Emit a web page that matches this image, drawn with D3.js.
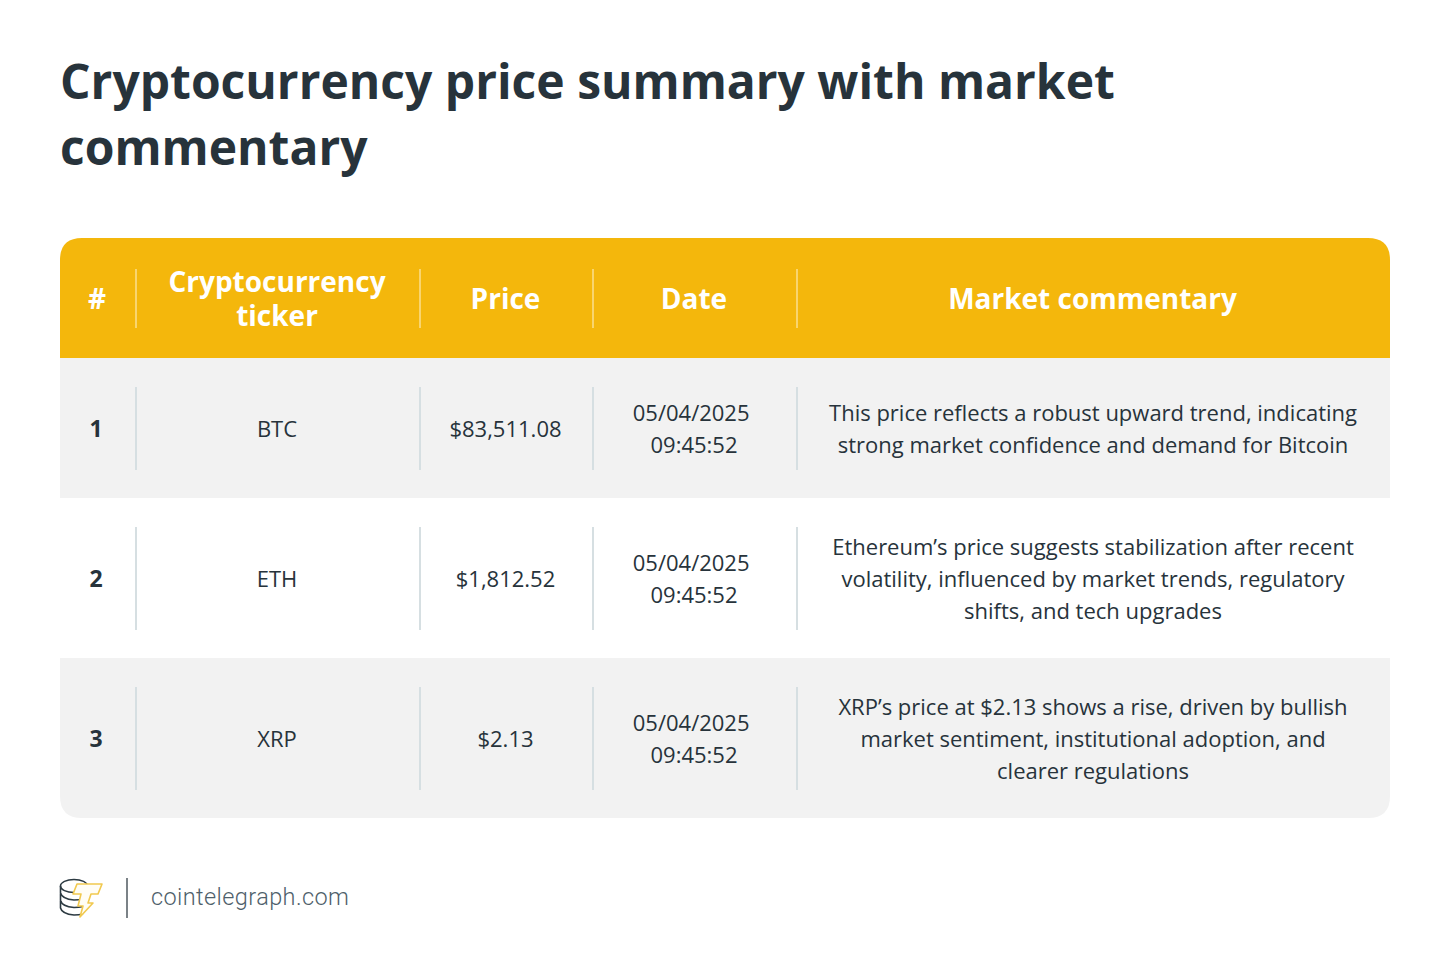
<!DOCTYPE html>
<html>
<head>
<meta charset="utf-8">
<script src="https://cdn.jsdelivr.net/npm/d3@7"></script>
<style>
  html, body { margin: 0; padding: 0; background: #fff; }
  svg { display: block; }
  text { font-family: "Open Sans", sans-serif; }
</style>
</head>
<body>
<svg id="chart"></svg>
<script>
// Table content
const titleLines = ["Cryptocurrency price summary with market", "commentary"];
const headers = [["#"], ["Cryptocurrency", "ticker"], ["Price"], ["Date"], ["Market commentary"]];
const rowNumbers = ["1", "2", "3"];
const tickers = ["BTC", "ETH", "XRP"];
const prices = ["$83,511.08", "$1,812.52", "$2.13"];
// The first date line carries a trailing space in the source, which pulls it left
const dates = [
    ["05/04/2025\u00a0", "09:45:52"],
    ["05/04/2025\u00a0", "09:45:52"],
    ["05/04/2025\u00a0", "09:45:52"]
];
const comments = [
    ["This price reflects a robust upward trend, indicating", "strong market confidence and demand for Bitcoin"],
    ["Ethereum’s price suggests stabilization after recent", "volatility, influenced by market trends, regulatory", "shifts, and tech upgrades"],
    ["XRP’s price at $2.13 shows a rise, driven by bullish", "market sentiment, institutional adoption, and", "clearer regulations"]
];
const sourceLabel = "cointelegraph.com";

// Specify the dimensions of the chart.
const width = 1450;
const height = 978;

// Specify visual constants
const HEADER_COLOR = '#f4b70c';
const ROW_COLOR = '#f2f2f2';
const TEXT_COLOR = '#27333b';
const DIVIDER_COLOR = '#d6dfe2';
const HEADER_DIVIDER_COLOR = '#f9d56e';
const TABLE_LEFT = 60;
const TABLE_RIGHT = 1390;
const TABLE_RADIUS = 22;

// Column edges, the dividers sit on the inner ones
const columnEdges = [TABLE_LEFT, 136, 420, 593, 797, TABLE_RIGHT];
// Row bands: header, then the three data rows
const bandEdges = [238, 358, 498, 658, 818];

const svg = d3.select('#chart')
    .attr('width', width)
    .attr('height', height)
    .attr('viewBox', [0, 0, width, height]);

const columnCenter = i => (columnEdges[i] + columnEdges[i + 1]) / 2 - 1;

function multiline(parent, lines, x, cy, lineHeight, attrs) {
    lines.forEach((line, i) => {
        const t = parent.append('text')
            .attr('x', x)
            .attr('y', cy + (i - (lines.length - 1) / 2) * lineHeight)
            .attr('text-anchor', 'middle')
            .attr('dominant-baseline', 'central')
            .text(line);
        Object.entries(attrs).forEach(([k, v]) => t.attr(k, v));
    });
}

// Title ------------------------------------------------------------------------
svg.append('g').selectAll('text')
    .data(titleLines)
    .join('text')
        .attr('x', 60)
        .attr('y', (d, i) => 99 + i * 66)
        .attr('font-size', 48)
        .attr('font-weight', 700)
        .attr('fill', TEXT_COLOR)
        .text(d => d);

// Table background -------------------------------------------------------------
const roundedBand = (y0, y1, top) => {
    const r = TABLE_RADIUS;
    const p = d3.path();
    if (top) {
        p.moveTo(TABLE_LEFT, y1);
        p.lineTo(TABLE_LEFT, y0 + r);
        p.quadraticCurveTo(TABLE_LEFT, y0, TABLE_LEFT + r, y0);
        p.lineTo(TABLE_RIGHT - r, y0);
        p.quadraticCurveTo(TABLE_RIGHT, y0, TABLE_RIGHT, y0 + r);
        p.lineTo(TABLE_RIGHT, y1);
    } else {
        p.moveTo(TABLE_LEFT, y0);
        p.lineTo(TABLE_LEFT, y1 - r);
        p.quadraticCurveTo(TABLE_LEFT, y1, TABLE_LEFT + r, y1);
        p.lineTo(TABLE_RIGHT - r, y1);
        p.quadraticCurveTo(TABLE_RIGHT, y1, TABLE_RIGHT, y1 - r);
        p.lineTo(TABLE_RIGHT, y0);
    }
    p.closePath();
    return p.toString();
};

svg.append('path').attr('d', roundedBand(bandEdges[0], bandEdges[1], true)).attr('fill', HEADER_COLOR);
svg.append('rect')
    .attr('x', TABLE_LEFT).attr('y', bandEdges[1])
    .attr('width', TABLE_RIGHT - TABLE_LEFT).attr('height', bandEdges[2] - bandEdges[1])
    .attr('fill', ROW_COLOR);
svg.append('path').attr('d', roundedBand(bandEdges[3], bandEdges[4], false)).attr('fill', ROW_COLOR);

// Dividers ---------------------------------------------------------------------
const DIVIDER_PAD = [31, 29, 29, 29];
for (let b = 0; b < 4; b++) {
    columnEdges.slice(1, 5).forEach(x => {
        svg.append('line')
            .attr('x1', x).attr('x2', x)
            .attr('y1', bandEdges[b] + DIVIDER_PAD[b])
            .attr('y2', bandEdges[b + 1] - (b === 0 ? 30 : 28))
            .attr('stroke', b === 0 ? HEADER_DIVIDER_COLOR : DIVIDER_COLOR)
            .attr('stroke-width', 2);
    });
}

// Header -----------------------------------------------------------------------
const headerCy = 298;
headers.forEach((lines, i) => {
    const x = i === 0 ? 97 : columnCenter(i);
    multiline(svg, lines, x, headerCy, 34, {
        'font-size': 28, 'font-weight': 700, 'fill': '#fff'
    });
});

// Rows -------------------------------------------------------------------------
const bodyStyle = { 'font-size': 22, 'fill': TEXT_COLOR };
rowNumbers.forEach((num, r) => {
    const cy = (bandEdges[r + 1] + bandEdges[r + 2]) / 2;
    multiline(svg, [num], 96, cy, 32, { 'font-size': 23, 'font-weight': 700, 'fill': TEXT_COLOR });
    multiline(svg, [tickers[r]], columnCenter(1), cy, 32, bodyStyle);
    multiline(svg, [prices[r]], columnCenter(2), cy, 32, bodyStyle);
    multiline(svg, dates[r], columnCenter(3), cy, 32, bodyStyle);
    multiline(svg, comments[r], columnCenter(4) + 0.5, cy, 32, bodyStyle);
});

// Source logo ------------------------------------------------------------------
const LOGO_DARK = '#2c3a42';
const logo = svg.append('g').attr('fill', 'none').attr('stroke-linejoin', 'round');
logo.append('ellipse')
    .attr('cx', 74).attr('cy', 886).attr('rx', 13.5).attr('ry', 6.5)
    .attr('stroke', LOGO_DARK).attr('stroke-width', 1.6);
[0, 1, 2].forEach(i => {
    logo.append('path')
        .attr('d', `M60.5 ${886 + i * 7.5} L60.5 ${893 + i * 7.5} Q62 ${899 + i * 7.5} 74 ${900 + i * 7.5} Q79 ${900 + i * 7.5} 83 ${899 + i * 7.5}`)
        .attr('stroke', LOGO_DARK)
        .attr('stroke-width', 1.6);
});
logo.append('path')
    .attr('d', 'M77 884 L102 884 L98 894 L91 894 L88 903 L93 903 L80 917 L83 906 L78 906 L81 894 L73 894 Z')
    .attr('fill', '#fffdf5')
    .attr('stroke', '#f1c94f')
    .attr('stroke-width', 1.6);

svg.append('line')
    .attr('x1', 127).attr('x2', 127)
    .attr('y1', 878).attr('y2', 918)
    .attr('stroke', '#7b8287')
    .attr('stroke-width', 2);

svg.append('text')
    .attr('x', 151)
    .attr('y', 905)
    .style('font-family', 'Roboto, sans-serif')
    .style('font-weight', 300)
    .attr('font-size', 23.5)
    .attr('letter-spacing', 0.4)
    .attr('fill', '#4f5f6b')
    .text(sourceLabel);
</script>
</body>
</html>
